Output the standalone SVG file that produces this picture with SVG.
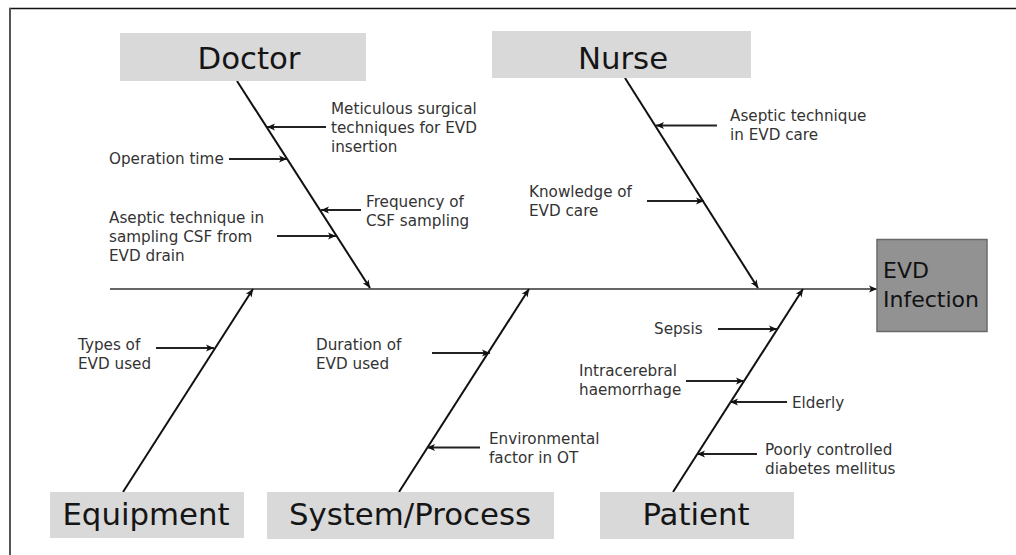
<svg xmlns="http://www.w3.org/2000/svg" width="1016" height="555" viewBox="0 0 1016 555">
<defs>
<marker id="ah" markerUnits="userSpaceOnUse" markerWidth="10" markerHeight="8" refX="8" refY="4" orient="auto">
<path d="M0,0.5 L8,4 L0,7.5 L2,4 z" fill="#111"/>
</marker>
<style>
.cat{fill:#d9d9d9}
.ct{font-family:"DejaVu Sans",sans-serif;font-size:30.8px;fill:#151515;text-anchor:middle}
.lb{font-family:"DejaVu Sans",sans-serif;font-size:15.2px;fill:#333}
.bone{stroke:#111;stroke-width:2;fill:none;marker-end:url(#ah)}
.sub{stroke:#222;stroke-width:2;fill:none;marker-end:url(#ah)}
</style>
</defs>
<rect width="1016" height="555" fill="#fff"/>
<line x1="9" y1="8.5" x2="1016" y2="8.5" stroke="#111" stroke-width="1.5"/>
<line x1="10" y1="8" x2="10" y2="555" stroke="#555" stroke-width="2"/>

<g id="connectors">
<line x1="110" y1="289" x2="877" y2="289" stroke="#333" stroke-width="1.5" marker-end="url(#ah)"/>
<line class="bone" x1="237" y1="81" x2="370" y2="288"/>
<line class="bone" x1="625" y1="78" x2="758" y2="288"/>
<line class="bone" x1="123" y1="492" x2="253" y2="289"/>
<line class="bone" x1="399" y1="492" x2="529" y2="289"/>
<line class="bone" x1="673" y1="492" x2="803" y2="289"/>
<line class="sub" x1="326" y1="127" x2="267" y2="127"/>
<line class="sub" x1="229" y1="159" x2="287" y2="159"/>
<line class="sub" x1="361" y1="210" x2="321" y2="210"/>
<line class="sub" x1="277" y1="236" x2="336" y2="236"/>
<line class="sub" x1="717" y1="125.5" x2="656" y2="125.5"/>
<line class="sub" x1="647" y1="201" x2="704" y2="201"/>
<line class="sub" x1="156" y1="348" x2="214" y2="348"/>
<line class="sub" x1="432" y1="353" x2="490" y2="353"/>
<line class="sub" x1="480" y1="447.5" x2="427" y2="447.5"/>
<line class="sub" x1="718" y1="329" x2="777" y2="329"/>
<line class="sub" x1="686" y1="381" x2="744" y2="381"/>
<line class="sub" x1="787" y1="402" x2="730" y2="402"/>
<line class="sub" x1="757" y1="454" x2="697" y2="454"/>
</g>

<g id="doctor">
<rect class="cat" x="120" y="33" width="246" height="48"/>
<text class="ct" x="249" y="69">Doctor</text>
</g>
<g id="nurse">
<rect class="cat" x="492" y="31" width="259" height="47"/>
<text class="ct" x="623" y="69">Nurse</text>
</g>
<g id="equipment">
<rect class="cat" x="50" y="492" width="194" height="46"/>
<text class="ct" x="146" y="525">Equipment</text>
</g>
<g id="system-process">
<rect class="cat" x="267" y="492" width="287" height="47"/>
<text class="ct" x="410" y="525">System/Process</text>
</g>
<g id="patient">
<rect class="cat" x="600" y="492" width="194" height="47"/>
<text class="ct" x="696" y="525">Patient</text>
</g>
<g id="evd-infection">
<rect x="877" y="239.5" width="110" height="92" fill="#929292" stroke="#6a6a6a" stroke-width="1.5"/>
<text font-family="DejaVu Sans, sans-serif" font-size="22" fill="#111"><tspan x="883" y="278">EVD</tspan><tspan x="883" y="307">Infection</tspan></text>
</g>

<g id="labels">
<text class="lb"><tspan x="331" y="114">Meticulous surgical</tspan><tspan x="331" y="133">techniques for EVD</tspan><tspan x="331" y="152">insertion</tspan></text>
<text class="lb" x="109" y="164">Operation time</text>
<text class="lb"><tspan x="366" y="206.5">Frequency of</tspan><tspan x="366" y="225.5">CSF sampling</tspan></text>
<text class="lb"><tspan x="109" y="222.5">Aseptic technique in</tspan><tspan x="109" y="241.5">sampling CSF from</tspan><tspan x="109" y="260.5">EVD drain</tspan></text>
<text class="lb"><tspan x="730" y="120.5">Aseptic technique</tspan><tspan x="730" y="139.5">in EVD care</tspan></text>
<text class="lb"><tspan x="529" y="197">Knowledge of</tspan><tspan x="529" y="216">EVD care</tspan></text>
<text class="lb"><tspan x="78" y="350">Types of</tspan><tspan x="78" y="369">EVD used</tspan></text>
<text class="lb"><tspan x="316" y="350">Duration of</tspan><tspan x="316" y="369">EVD used</tspan></text>
<text class="lb"><tspan x="489" y="443.5">Environmental</tspan><tspan x="489" y="462.5">factor in OT</tspan></text>
<text class="lb" x="654" y="334">Sepsis</text>
<text class="lb"><tspan x="579" y="375.5">Intracerebral</tspan><tspan x="579" y="394.5">haemorrhage</tspan></text>
<text class="lb" x="792" y="408">Elderly</text>
<text class="lb"><tspan x="765" y="455">Poorly controlled</tspan><tspan x="765" y="474">diabetes mellitus</tspan></text>
</g>
</svg>
